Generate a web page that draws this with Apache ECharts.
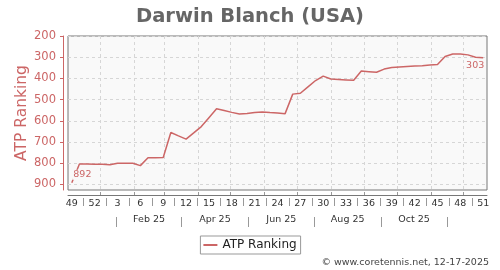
<!DOCTYPE html>
<html>
<head>
<meta charset="utf-8">
<script src="https://cdn.jsdelivr.net/npm/echarts@6/dist/echarts.min.js"></script>
<style>
html,body{margin:0;padding:0;background:#fff;}
#c{width:500px;height:270px;}
</style>
</head>
<body>
<div id="c"></div>
<script>
// ---- data ----
const weekNumbers = [49,50,51,52,1,2,3,4,5,6,7,8,9,10,11,12,13,14,15,16,17,18,19,20,21,22,23,24,25,26,27,28,29,30,31,32,33,34,35,36,37,38,39,40,41,42,43,44,45,46,47,48,49,50,51];
const ranks = [892,803,804,805,805,807,800,800,800,811,774,774,773,655,671,686,657,627,585,543,551,560,568,565,561,558,561,563,566,474,470,440,410,389,403,405,407,409,365,368,371,356,349,346,344,342,340,337,334,297,285,285,289,300,303];
const yTicks = [200,300,400,500,600,700,800,900];
const firstWeekDate = '2024-12-06';
const monthGridDates = ['2025-01-01','2025-02-01','2025-03-01','2025-04-01','2025-05-01','2025-06-01','2025-07-01','2025-08-01','2025-09-01','2025-10-01','2025-11-01','2025-12-01'];
const monthSeparatorDates = ['2025-01-16','2025-03-17','2025-05-17','2025-07-17','2025-09-16','2025-11-16'];
const monthLabels = ['Feb 25','Apr 25','Jun 25','Aug 25','Oct 25'];
const playerName = 'Darwin Blanch (USA)';
const seriesName = 'ATP Ranking';
const footer = '\u00a9 www.coretennis.net, 12-17-2025';

// ---- derived ----
const DAY = 86400000;
const t0 = Date.parse(firstWeekDate);
const toIdx = d => (Date.parse(d) - t0) / (7 * DAY);
const monthGridIdx = monthGridDates.map(toIdx);
const sepIdx = monthSeparatorDates.map(toIdx);
const monthLabelIdx = monthLabels.map((_, i) => (sepIdx[i] + sepIdx[i + 1]) / 2);
const weekLabelIdx = [];
const weekSepIdx = [];
for (let i = 0; i < weekNumbers.length; i += 3) weekLabelIdx.push(i);
for (let i = 1.5; i < weekNumbers.length - 1; i += 3) weekSepIdx.push(i);

const pink = '#cc6666';
const font = 'DejaVu Sans';
const xMin = -0.5, xMax = weekNumbers.length - 0.5;

const data = ranks.map((v, i) => {
  const item = { value: [i, v] };
  if (i === 0) item.label = { show: true, position: 'right', distance: 0, offset: [0, -8], backgroundColor: '#f9f9f9', padding: [0, 1] };
  if (i === ranks.length - 1) item.label = { show: true, position: 'bottom', distance: 2, offset: [-8, 0] };
  return item;
});

const chart = echarts.init(document.getElementById('c'), null, { renderer: 'canvas' });
chart.setOption({
  animation: false,
  backgroundColor: '#fff',
  title: [
    { text: playerName, left: 'center', top: 2,
      textStyle: { fontFamily: font, fontSize: 19.5, fontWeight: 'bold', color: '#666' } },
    { text: footer, right: 11, bottom: 2, padding: 0,
      textStyle: { fontFamily: font, fontSize: 9.5, fontWeight: 'normal', color: '#444' } }
  ],
  legend: {
    data: [{ name: seriesName, itemStyle: { color: pink } }], left: 'center', top: 236,
    icon: 'rect', itemWidth: 14, itemHeight: 2, itemGap: 5,
    padding: [3, 4, 3, 3], borderColor: '#999', borderWidth: 1, backgroundColor: '#fff',
    textStyle: { fontFamily: font, fontSize: 12, color: '#222' }
  },
  grid: { left: 68, right: 13, top: 36, bottom: 80, show: true,
    backgroundColor: '#f9f9f9', borderColor: '#777', borderWidth: 1 },
  xAxis: [
    { type: 'value', min: xMin, max: xMax, position: 'bottom', offset: 8,
      axisLine: { show: false, onZero: false },
      axisTick: { show: true, customValues: weekSepIdx, length: 8, lineStyle: { color: '#999' } },
      axisLabel: { customValues: weekLabelIdx, formatter: v => String(weekNumbers[Math.round(v)]),
        margin: 1, fontFamily: font, fontSize: 9.5, color: '#333' },
      splitLine: { show: false } },
    { type: 'value', min: xMin, max: xMax, position: 'bottom', offset: 5,
      axisLine: { show: true, onZero: false, lineStyle: { color: '#777', width: 1 } },
      axisTick: { show: true, inside: true, customValues: monthGridIdx, length: 3, lineStyle: { color: '#999' } },
      axisLabel: { show: false },
      splitLine: { show: true, lineStyle: { color: '#d6d6d6', type: [3, 3], width: 1 } } },
    { type: 'value', min: xMin, max: xMax, position: 'bottom', offset: 27,
      axisLine: { show: false, onZero: false },
      axisTick: { show: true, customValues: sepIdx, length: 10, lineStyle: { color: '#999' } },
      axisLabel: { customValues: monthLabelIdx,
        formatter: v => { let k = 0, b = Infinity; monthLabelIdx.forEach((m, j) => { if (Math.abs(m - v) < b) { b = Math.abs(m - v); k = j; } }); return monthLabels[k]; },
        margin: -2, fontFamily: font, fontSize: 9.5, color: '#333' },
      splitLine: { show: false } }
  ],
  yAxis: {
    type: 'value', inverse: true, min: 200, max: 926, offset: 5, position: 'left',
    name: seriesName, nameLocation: 'middle', nameGap: 33, nameMoveOverlap: false,
    nameTextStyle: { fontFamily: font, fontSize: 15.5, color: pink },
    axisLine: { show: true, onZero: false, lineStyle: { color: pink, width: 1 } },
    axisTick: { show: true, customValues: yTicks, length: 3, lineStyle: { color: pink } },
    axisLabel: { customValues: yTicks, margin: 7, fontFamily: font, fontSize: 11.5, color: pink },
    splitLine: { show: true, lineStyle: { color: '#d6d6d6', type: [3, 3], width: 1 } }
  },
  series: [{
    name: seriesName, type: 'line', xAxisIndex: 0, data: data,
    showSymbol: true, symbol: 'circle', symbolSize: 1,
    itemStyle: { color: 'rgba(0,0,0,0)' },
    lineStyle: { color: pink, width: 1.5 },
    label: { show: false, fontFamily: font, fontSize: 9.5, color: pink, formatter: p => String(p.value[1]) },
    emphasis: { disabled: true }
  }]
});
</script>
</body>
</html>
